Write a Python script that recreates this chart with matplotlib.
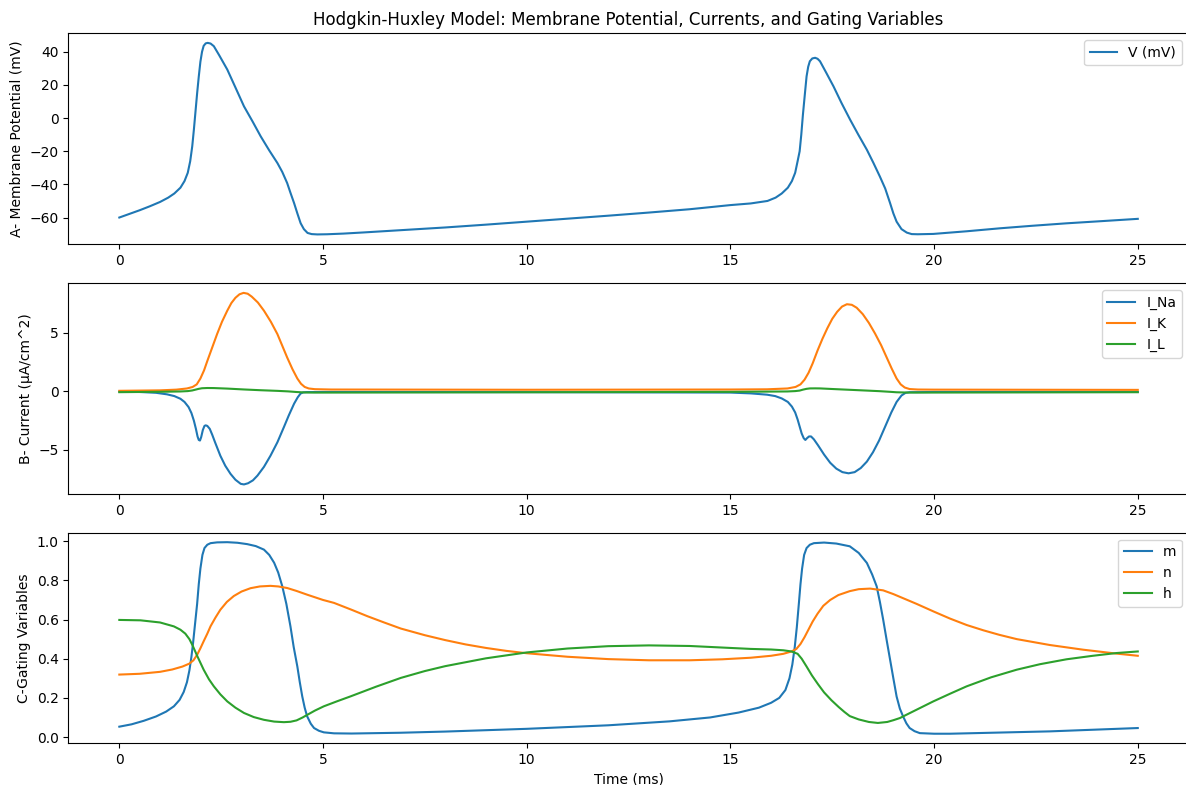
import matplotlib.pyplot as plt

# membrane potential (mV)
t_v = [0, 0.25, 0.5, 0.75, 1.0, 1.2, 1.35, 1.5, 1.6, 1.68, 1.74, 1.79, 1.83, 1.87,
       1.91, 1.95, 1.99, 2.03, 2.07, 2.12, 2.17, 2.24, 2.32, 2.45, 2.65, 2.85, 3.06,
       3.27, 3.47, 3.68, 3.88, 4.0, 4.12, 4.2, 4.29, 4.37, 4.45, 4.53, 4.62, 4.72,
       4.86, 5.1, 5.5, 6.0, 7.0, 8.0, 9.0, 10.0, 11.0, 12.0, 13.0, 14.0, 15.0, 15.5,
       15.91, 16.11, 16.26, 16.41, 16.51, 16.59, 16.65, 16.70, 16.74, 16.78, 16.83,
       16.87, 16.91, 16.95, 17.01, 17.08, 17.14, 17.20, 17.35, 17.53, 17.73, 17.94,
       18.14, 18.35, 18.51, 18.67, 18.80, 18.92, 19.00, 19.08, 19.20, 19.33, 19.45,
       19.6, 19.98, 20.8, 21.62, 22.4, 23.25, 24.1, 25.0]
V = [-60, -57.8, -55.6, -53.2, -50.6, -48, -45.5, -42, -38, -33, -26, -17, -7, 4,
     15, 25, 34, 40, 43.6, 45.1, 45.4, 45, 43.4, 38, 29.3, 18.5, 7.1,
     -2, -11, -19.5, -27.1, -32.5, -39.2, -45, -51.3, -57.5, -63.4, -67, -69.3, -70,
     -70.2, -70.1, -69.7, -69, -67.5, -66, -64.3, -62.5, -60.7, -58.9, -57, -55, -52.5, -51.5,
     -50, -48, -45.5, -42, -38, -33, -26, -20, -10, 2, 15,
     25.2, 31, 34.3, 36, 36.4, 35.8, 34.3, 27.5, 19.2, 9, -1,
     -10, -19.1, -27, -35.3, -42.5, -51.3, -57.5, -62.5, -67, -69.1, -70,
     -70.1, -69.9, -68.3, -66.5, -65, -63.5, -62.2, -60.8]

# ionic currents (uA/cm^2)
t_na = [0, 0.5, 0.9, 1.17, 1.35, 1.5, 1.6, 1.7, 1.77, 1.83, 1.88, 1.92, 1.95, 1.98,
        2.01, 2.05, 2.09, 2.12, 2.16, 2.22, 2.28, 2.35, 2.48, 2.6, 2.73, 2.85, 2.98,
        3.06, 3.16, 3.28, 3.39, 3.55, 3.71, 3.88, 4.04, 4.16, 4.29, 4.38, 4.45, 4.52,
        4.6, 5.0, 10.0, 15.0, 15.5, 15.9, 16.1, 16.26, 16.41, 16.51, 16.59, 16.65,
        16.70, 16.75, 16.8, 16.84, 16.88, 16.93, 16.98, 17.05, 17.15, 17.3, 17.45,
        17.6, 17.75, 17.9, 18.05, 18.2, 18.35, 18.5, 18.65, 18.8, 18.95, 19.08, 19.2,
        19.3, 19.4, 20.0, 25.0]
I_Na = [-0.02, -0.05, -0.12, -0.25, -0.4, -0.63, -0.9, -1.34, -1.85, -2.5, -3.2,
        -3.85, -4.15, -4.2, -3.9, -3.3, -2.95, -2.9, -2.95, -3.2, -3.7, -4.35, -5.5,
        -6.35, -7.05, -7.55, -7.9, -7.95, -7.85, -7.6, -7.2, -6.45, -5.5, -4.35,
        -3.05, -2.05, -1.05, -0.5, -0.18, -0.08, -0.06, -0.05, -0.06, -0.1, -0.17,
        -0.28, -0.4, -0.6, -0.9, -1.3, -1.8, -2.4, -3.0, -3.6, -4.0, -4.15, -4.0,
        -3.85, -3.85, -4.1, -4.6, -5.4, -6.1, -6.6, -6.9, -7.0, -6.9, -6.55, -6.0,
        -5.2, -4.2, -3.0, -1.8, -0.9, -0.35, -0.12, -0.07, -0.05, -0.05]

t_k = [0, 1.0, 1.4, 1.66, 1.8, 1.9, 1.99, 2.08, 2.16, 2.28, 2.40, 2.52, 2.65, 2.75,
       2.85, 2.95, 3.05, 3.15, 3.25, 3.4, 3.55, 3.72, 3.88, 4.0, 4.12, 4.25, 4.37,
       4.46, 4.55, 4.65, 4.8, 5.2, 10.0, 15.0, 15.9, 16.4, 16.6, 16.72, 16.82,
       16.92, 17.02, 17.14, 17.26, 17.38, 17.5, 17.62, 17.74, 17.86, 17.98, 18.1,
       18.25, 18.4, 18.55, 18.7, 18.83, 18.96, 19.08, 19.18, 19.28, 19.4, 19.6,
       20.0, 25.0]
I_K = [0.05, 0.09, 0.15, 0.25, 0.38, 0.6, 1.1, 1.8, 2.6, 3.75, 4.9, 5.95, 6.9, 7.55,
       8.0, 8.3, 8.42, 8.35, 8.1, 7.6, 6.9, 5.95, 4.9, 3.9, 2.9, 1.9, 1.1,
       0.65, 0.38, 0.25, 0.19, 0.16, 0.14, 0.16, 0.18, 0.25, 0.38, 0.6, 1.0,
       1.6, 2.4, 3.5, 4.5, 5.4, 6.2, 6.8, 7.25, 7.45, 7.4, 7.15,
       6.6, 5.85, 4.95, 3.95, 2.95, 1.95, 1.1, 0.6, 0.33, 0.2, 0.16,
       0.15, 0.13]

t_l = [0, 1.0, 1.5, 1.68, 1.79, 1.87, 1.95, 2.03, 2.16, 2.32, 2.65, 3.06, 3.47, 3.88,
       4.14, 4.35, 4.55, 4.8, 5.0, 10.0, 15.0, 16.4, 16.59, 16.7, 16.78, 16.87,
       16.95, 17.08, 17.2, 17.53, 17.94, 18.35, 18.67, 18.92, 19.08, 19.33, 19.57,
       21.62, 25.0]
I_L = [-0.066, -0.034, -0.005, 0.026, 0.08, 0.15, 0.22, 0.27, 0.29, 0.285, 0.24,
       0.165, 0.1, 0.046, 0.002, -0.052, -0.09, -0.1, -0.1, -0.075, -0.04, -0.005,
       0.026, 0.07, 0.15, 0.22, 0.255, 0.26, 0.255, 0.2, 0.135, 0.07, 0.018,
       -0.036, -0.075, -0.097, -0.1, -0.088, -0.068]

# gating variables
t_m = [0, 0.3, 0.6, 0.9, 1.15, 1.34, 1.48, 1.58, 1.66, 1.72, 1.77, 1.81, 1.86, 1.91,
       1.95, 1.99, 2.04, 2.09, 2.16, 2.24, 2.4, 2.65, 2.9, 3.14, 3.35, 3.55, 3.68,
       3.8, 3.9, 4.0, 4.1, 4.2, 4.28, 4.37, 4.43, 4.49, 4.55, 4.61, 4.7, 4.78, 4.9,
       5.02, 5.27, 5.7, 6.9, 8.0, 10.0, 12.0, 13.5, 14.5, 15.2, 15.7, 16.0, 16.2,
       16.35, 16.45, 16.52, 16.58, 16.63, 16.68, 16.72, 16.76, 16.81, 16.87, 16.95,
       17.05, 17.3, 17.6, 17.93, 18.15, 18.35, 18.48, 18.59, 18.67, 18.75, 18.84,
       18.92, 19.0, 19.08, 19.16, 19.24, 19.32, 19.40, 19.52, 19.65, 20.0, 20.39,
       22.84, 25.0]
m = [0.053, 0.065, 0.083, 0.105, 0.13, 0.157, 0.19, 0.23, 0.28, 0.34, 0.41, 0.48,
     0.58, 0.68, 0.78, 0.86, 0.93, 0.965, 0.982, 0.99, 0.994, 0.995, 0.992, 0.985,
     0.975, 0.957, 0.93, 0.89, 0.84, 0.77, 0.68, 0.566, 0.46, 0.36, 0.28, 0.208,
     0.15, 0.106, 0.068, 0.046, 0.032, 0.024, 0.019, 0.018, 0.022, 0.028, 0.042,
     0.06, 0.08, 0.1, 0.125, 0.15, 0.175, 0.2, 0.24, 0.3, 0.37, 0.46, 0.56, 0.68,
     0.78, 0.86, 0.93, 0.965, 0.982, 0.99, 0.993, 0.988, 0.974, 0.94, 0.889, 0.83,
     0.77, 0.69, 0.60, 0.49, 0.395, 0.3, 0.207, 0.145, 0.105, 0.07, 0.046, 0.03,
     0.020, 0.017, 0.017, 0.029, 0.046]

t_n = [0, 0.5, 1.0, 1.3, 1.55, 1.72, 1.82, 1.91, 1.99, 2.07, 2.16, 2.24, 2.36, 2.48,
       2.64, 2.81, 3.0, 3.22, 3.45, 3.71, 3.9, 4.12, 4.35, 4.61, 5.0, 5.27, 5.7,
       6.09, 6.5, 6.91, 7.5, 8.0, 8.5, 9.0, 9.5, 10.0, 11.0, 12.0, 13.0, 14.0, 14.8,
       15.5, 16.0, 16.3, 16.5, 16.62, 16.72, 16.82, 16.92, 17.02, 17.14, 17.28,
       17.45, 17.65, 17.93, 18.15, 18.43, 18.75, 19.0, 19.57, 20.0, 20.39, 20.8,
       21.21, 21.6, 22.03, 22.84, 23.66, 24.48, 25.0]
n = [0.319, 0.323, 0.333, 0.345, 0.36, 0.375, 0.392, 0.42, 0.453, 0.489, 0.528,
     0.566, 0.61, 0.65, 0.69, 0.72, 0.743, 0.76, 0.769, 0.772, 0.769, 0.761, 0.746,
     0.727, 0.70, 0.685, 0.65, 0.617, 0.585, 0.554, 0.52, 0.495, 0.473, 0.455,
     0.44, 0.428, 0.41, 0.398, 0.392, 0.392, 0.397, 0.405, 0.415, 0.425, 0.437,
     0.45, 0.475, 0.51, 0.55, 0.59, 0.63, 0.67, 0.70, 0.725, 0.745, 0.755, 0.758,
     0.749, 0.73, 0.68, 0.64, 0.605, 0.572, 0.545, 0.522, 0.50, 0.47, 0.446,
     0.426, 0.415]

t_h = [0, 0.52, 1.0, 1.34, 1.5, 1.62, 1.72, 1.8, 1.91, 2.07, 2.2, 2.32, 2.48, 2.65,
       2.85, 3.06, 3.3, 3.55, 3.8, 4.04, 4.2, 4.35, 4.5, 4.61, 4.8, 5.02, 5.35,
       5.68, 6.3, 6.91, 7.5, 8.0, 9.0, 10.0, 11.0, 12.0, 13.0, 14.0, 15.0, 15.5,
       16.0, 16.3, 16.5, 16.65, 16.75, 16.87, 17.0, 17.15, 17.3, 17.48, 17.66, 17.8,
       17.93, 18.15, 18.4, 18.62, 18.85, 19.0, 19.16, 19.4, 19.7, 19.98, 20.4,
       20.80, 21.4, 22.03, 22.6, 23.25, 23.9, 24.48, 25.0]
h = [0.598, 0.596, 0.585, 0.565, 0.548, 0.528, 0.5, 0.467, 0.415, 0.344, 0.295,
     0.259, 0.218, 0.182, 0.15, 0.123, 0.102, 0.088, 0.079, 0.076, 0.078, 0.085,
     0.1, 0.113, 0.135, 0.157, 0.183, 0.208, 0.257, 0.302, 0.337, 0.362, 0.402,
     0.432, 0.452, 0.464, 0.468, 0.465, 0.455, 0.45, 0.447, 0.443, 0.437, 0.425,
     0.40, 0.36, 0.315, 0.27, 0.228, 0.188, 0.153, 0.128, 0.107, 0.09, 0.077,
     0.072, 0.077, 0.086, 0.097, 0.122, 0.153, 0.182, 0.222, 0.259, 0.305, 0.344,
     0.372, 0.397, 0.415, 0.429, 0.437]

fig = plt.figure(figsize=(11.86, 7.85), dpi=100)
W, H = 1186.0, 785.0
left, width = 68.4 / W, (1188.7 - 68.4) / W
ax_h = 210.7 / H
ax1 = fig.add_axes([left, (H - 244.0) / H, width, ax_h])
ax2 = fig.add_axes([left, (H - 494.0) / H, width, ax_h])
ax3 = fig.add_axes([left, (H - 743.3) / H, width, ax_h])

ax1.plot(t_v, V, label='V (mV)')
ax1.set_ylabel('A- Membrane Potential (mV)')
ax1.set_title('Hodgkin-Huxley Model: Membrane Potential, Currents, and Gating Variables')
ax1.legend(loc='upper right')

ax2.plot(t_na, I_Na, label='I_Na')
ax2.plot(t_k, I_K, label='I_K')
ax2.plot(t_l, I_L, label='I_L')
ax2.set_ylabel('B- Current (μA/cm^2)')
ax2.legend(loc='upper right')

ax3.plot(t_m, m, label='m')
ax3.plot(t_n, n, label='n')
ax3.plot(t_h, h, label='h')
ax3.set_ylabel('C-Gating Variables')
ax3.set_xlabel('Time (ms)')
ax3.legend(loc='upper right')

fig.savefig('out.png', dpi=100)
